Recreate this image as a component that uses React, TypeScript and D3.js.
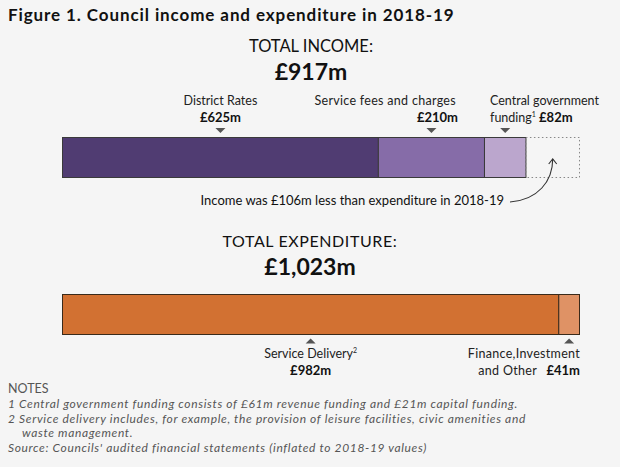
import React from "react";
import * as d3 from "d3";

const incomeCategories = ["District Rates", "Service fees and charges", "Central government funding"];
const incomeValues = [625, 210, 82];
const incomeColors = ["#503c72", "#866ca8", "#bba6cd"];
const expenditureCategories = ["Service Delivery", "Finance,Investment and Other"];
const expenditureValues = [982, 41];
const expenditureColors = ["#d27132", "#df9265"];
const totalIncome = 917;
const totalExpenditure = 1023;
const gap = 106;

const W = 620;
const H = 467;
const FONT = "Lato, 'Open Sans', sans-serif";

function stack(values: number[]) {
  let acc = 0;
  return values.map((v) => {
    const s = acc;
    acc += v;
    return { start: s, end: acc, value: v };
  });
}

export default function App() {
  const x = d3.scaleLinear().domain([0, totalExpenditure]).range([62.5, 579.5]);
  const inc = stack(incomeValues);
  const exp = stack(expenditureValues);
  const incY = 137.5;
  const expY = 294.5;
  const barH = 40;
  const mid = (s: { start: number; end: number }) => x((s.start + s.end) / 2);
  const down = (cx: number, y: number) => `M${cx - 5},${y} L${cx + 5},${y} L${cx},${y + 5} Z`;
  const up = (cx: number, y: number) => `M${cx - 5},${y + 5} L${cx + 5},${y + 5} L${cx},${y} Z`;
  const fmt = (v: number) => `£${d3.format(",")(v)}m`;

  const arrowStart: [number, number] = [510, 202];
  const arrowEnd: [number, number] = [(x(totalIncome) + x(totalExpenditure)) / 2, 159];
  const arrowPath = `M${arrowStart[0]},${arrowStart[1]} C${arrowStart[0] + 28},${arrowStart[1] - 2} ${arrowEnd[0]},${arrowEnd[1] + 22} ${arrowEnd[0]},${arrowEnd[1]}`;

  return (
    <svg
      width={W}
      height={H}
      style={{ position: "absolute", left: 0, top: 0, background: "#f5f5f5" }}
      fontFamily={FONT}
    >
      <rect x={0} y={0} width={W} height={H} fill="#f5f5f5" />
      <text x={8} y={21} fontSize={17} fontWeight={700} fill="#111" letterSpacing={0.9}>
        Figure 1. Council income and expenditure in 2018-19
      </text>

      {/* Income */}
      <text x={311} y={52} fontSize={16.5} textAnchor="middle" fill="#111" fontWeight={400}>
        TOTAL INCOME:
      </text>
      <text x={311} y={80} fontSize={23} textAnchor="middle" fill="#111" fontWeight={700}>
        {fmt(totalIncome)}
      </text>

      <text x={mid(inc[0])} y={105} fontSize={12.5} textAnchor="middle" fill="#222">
        {incomeCategories[0]}
      </text>
      <text x={mid(inc[0])} y={122} fontSize={13} textAnchor="middle" fill="#111" fontWeight={700}>
        {fmt(incomeValues[0])}
      </text>
      <text x={456} y={105} fontSize={12.5} textAnchor="end" fill="#222" letterSpacing={0.3}>
        {incomeCategories[1]}
      </text>
      <text x={458} y={122} fontSize={13} textAnchor="end" fill="#111" fontWeight={700}>
        {fmt(incomeValues[1])}
      </text>
      <text x={490} y={105} fontSize={12.5} fill="#222">
        Central government
      </text>
      <text x={490} y={122} fontSize={12.5} fill="#222">
        funding<tspan fontSize={7} dy={-5}>1</tspan>
        <tspan dy={5} fontWeight={700} fontSize={13} fill="#111"> {fmt(incomeValues[2])}</tspan>
      </text>

      {inc.map((s, i) => (
        <path key={"t" + i} d={down(mid(s), 128)} fill="#555" />
      ))}
      {inc.map((s, i) => (
        <rect
          key={"b" + i}
          x={x(s.start)}
          y={incY}
          width={x(s.end) - x(s.start)}
          height={barH}
          fill={incomeColors[i]}
          stroke="#3a3a3a"
          strokeWidth={1}
        />
      ))}
      <rect
        x={x(totalIncome)}
        y={incY}
        width={x(totalExpenditure) - x(totalIncome)}
        height={barH}
        fill="none"
        stroke="#888"
        strokeWidth={1}
        strokeDasharray="1.5,2.5"
      />
      <path d={arrowPath} fill="none" stroke="#333" strokeWidth={1.1} />
      <path
        d={`M${arrowEnd[0] - 4},${arrowEnd[1] + 5} L${arrowEnd[0]},${arrowEnd[1]} L${arrowEnd[0] + 4},${arrowEnd[1] + 5}`}
        fill="none"
        stroke="#333"
        strokeWidth={1.1}
      />
      <text x={504} y={205} fontSize={13} textAnchor="end" fill="#111">
        Income was £{gap}m less than expenditure in 2018-19
      </text>

      {/* Expenditure */}
      <text x={310} y={247} fontSize={16} textAnchor="middle" fill="#111" fontWeight={400} letterSpacing={0.6}>
        TOTAL EXPENDITURE:
      </text>
      <text x={310} y={275} fontSize={23} textAnchor="middle" fill="#111" fontWeight={700}>
        {fmt(totalExpenditure)}
      </text>
      {exp.map((s, i) => (
        <rect
          key={"e" + i}
          x={x(s.start)}
          y={expY}
          width={x(s.end) - x(s.start)}
          height={barH}
          fill={expenditureColors[i]}
          stroke="#3a2a1a"
          strokeWidth={1}
        />
      ))}
      {exp.map((s, i) => (
        <path key={"u" + i} d={up(mid(s), 338.5)} fill="#555" />
      ))}
      <text x={mid(exp[0])} y={358} fontSize={12.5} textAnchor="middle" fill="#222">
        {expenditureCategories[0]}
        <tspan fontSize={7} dy={-5}>2</tspan>
      </text>
      <text x={mid(exp[0])} y={375} fontSize={13} textAnchor="middle" fill="#111" fontWeight={700}>
        {fmt(expenditureValues[0])}
      </text>
      <text x={580} y={358} fontSize={12.5} textAnchor="end" fill="#222" letterSpacing={0.3}>
        Finance,Investment
      </text>
      <text x={537} y={375} fontSize={12.5} textAnchor="end" fill="#222" letterSpacing={0.3}>
        and Other
      </text>
      <text x={580} y={375} fontSize={13} textAnchor="end" fill="#111" fontWeight={700}>
        {fmt(expenditureValues[1])}
      </text>

      {/* Notes */}
      <text x={8} y={393} fontSize={12.5} fill="#555">
        NOTES
      </text>
      <g fontSize={12} fill="#555" fontStyle="italic" letterSpacing={0.65}>
        <text x={8} y={408}>
          1 Central government funding consists of £61m revenue funding and £21m capital funding.
        </text>
        <text x={8} y={422.5}>
          2 Service delivery includes, for example, the provision of leisure facilities, civic amenities and
        </text>
        <text x={22} y={437}>
          waste management.
        </text>
        <text x={8} y={451.5}>
          Source: Councils' audited financial statements (inflated to 2018-19 values)
        </text>
      </g>
    </svg>
  );
}
